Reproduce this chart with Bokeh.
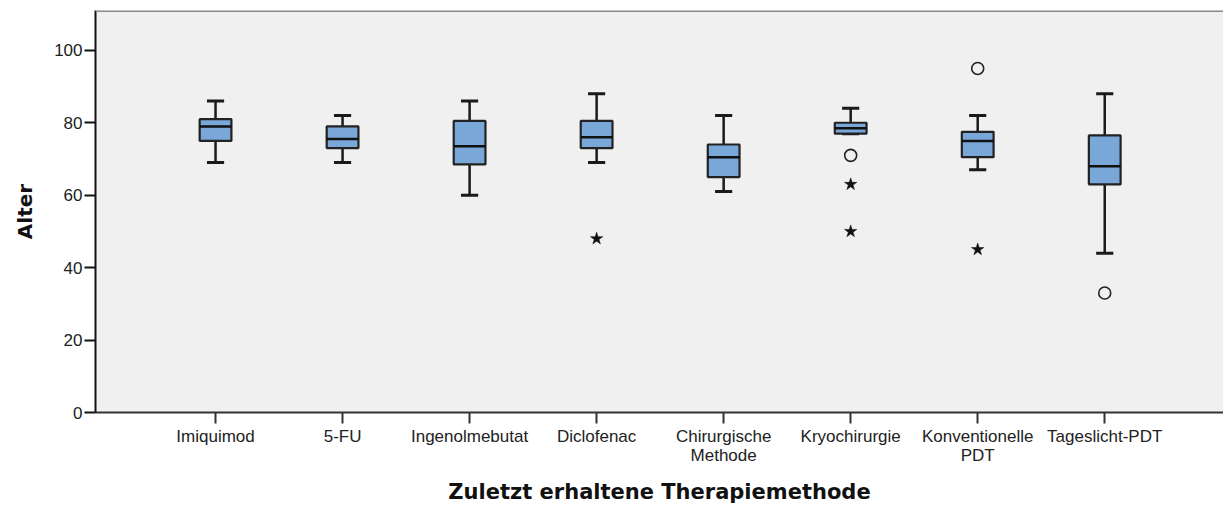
from bokeh.plotting import figure
from bokeh.models import FixedTicker, Range1d, Span
from bokeh.embed import file_html
from bokeh.resources import INLINE

categories = ["Imiquimod", "5-FU", "Ingenolmebutat", "Diclofenac",
              "Chirurgische\nMethode", "Kryochirurgie", "Konventionelle\nPDT", "Tageslicht-PDT"]
whisker_low = [69, 69, 60, 69, 61, 77, 67, 44]
q1 = [75, 73, 68.5, 73, 65, 77, 70.5, 63]
median = [79, 75.5, 73.5, 76, 70.5, 78.5, 75, 68]
q3 = [81, 79, 80.5, 80.5, 74, 80, 77.5, 76.5]
whisker_high = [86, 82, 86, 88, 82, 84, 82, 88]

# outliers: (category index, value)
circle_cat = [5, 6, 7]
circle_val = [71, 95, 33]
star_cat = [3, 5, 5, 6]
star_val = [48, 63, 50, 45]

y_ticks = [0, 20, 40, 60, 80, 100]

xpos = [i + 1 for i in range(len(categories))]

p = figure(width=1223, height=510, output_backend="svg", toolbar_location=None,
           x_range=Range1d(0.055, 8.935), y_range=Range1d(0, 111),
           min_border_left=95, min_border_right=0, min_border_top=10, min_border_bottom=98)

p.background_fill_color = "#f0f0f0"
p.border_fill_color = "white"
p.outline_line_color = None
p.grid.visible = False

BOX_W = 0.25
CAP_W = 0.135
DARK = "#1a1a1a"

# whiskers
p.segment(x0=xpos, x1=xpos, y0=whisker_low, y1=q1, line_color=DARK, line_width=2.5)
p.segment(x0=xpos, x1=xpos, y0=q3, y1=whisker_high, line_color=DARK, line_width=2.5)
# caps
p.segment(x0=[x - CAP_W / 2 for x in xpos], x1=[x + CAP_W / 2 for x in xpos],
          y0=whisker_low, y1=whisker_low, line_color=DARK, line_width=3)
p.segment(x0=[x - CAP_W / 2 for x in xpos], x1=[x + CAP_W / 2 for x in xpos],
          y0=whisker_high, y1=whisker_high, line_color=DARK, line_width=3)
# boxes
p.vbar(x=xpos, width=BOX_W, bottom=q1, top=q3, fill_color="#79a7d7",
       line_color="#222222", line_width=2.2)
# medians
p.segment(x0=[x - BOX_W / 2 for x in xpos], x1=[x + BOX_W / 2 for x in xpos],
          y0=median, y1=median, line_color="#111111", line_width=2.5)

# outliers
p.scatter(x=[xpos[i] for i in circle_cat], y=circle_val, marker="circle", size=12,
          fill_color=None, line_color="#222222", line_width=1.6)
p.scatter(x=[xpos[i] for i in star_cat], y=star_val, marker="star", size=13,
          fill_color="#111111", line_color="#111111", line_width=0.5)

# top border
p.add_layout(Span(location=111, dimension="width", line_color="#8c8c8c", line_width=3))

# axes
p.xaxis.ticker = FixedTicker(ticks=xpos)
p.xaxis.major_label_overrides = {x: c for x, c in zip(xpos, categories)}
p.yaxis.ticker = FixedTicker(ticks=y_ticks)

for ax in (p.xaxis[0], p.yaxis[0]):
    ax.minor_tick_line_color = None
    ax.major_tick_in = 0
    ax.major_tick_out = 11
    ax.major_tick_line_width = 2
    ax.axis_line_width = 2
    ax.major_label_text_font = "Liberation Sans"
    ax.major_label_text_font_size = "17px"
    ax.major_label_text_color = "#222222"
    ax.axis_label_text_font = "DejaVu Sans"
    ax.axis_label_text_font_style = "bold"
    ax.axis_label_text_color = "#111111"

p.xaxis.axis_line_color = "#333333"
p.xaxis.major_tick_line_color = "#333333"
p.yaxis.axis_line_color = "#111111"
p.yaxis.major_tick_line_color = "#111111"
p.xaxis.major_label_standoff = 3
p.yaxis.major_label_standoff = 2
p.xaxis.major_label_text_line_height = 1.05

p.xaxis.axis_label = "Zuletzt erhaltene Therapiemethode"
p.xaxis.axis_label_text_font_size = "21px"
p.xaxis.axis_label_standoff = 12
p.yaxis.axis_label = "Alter"
p.yaxis.axis_label_text_font_size = "20px"
p.yaxis.axis_label_standoff = 14

open("out.html", "w").write(file_html(p, INLINE))
